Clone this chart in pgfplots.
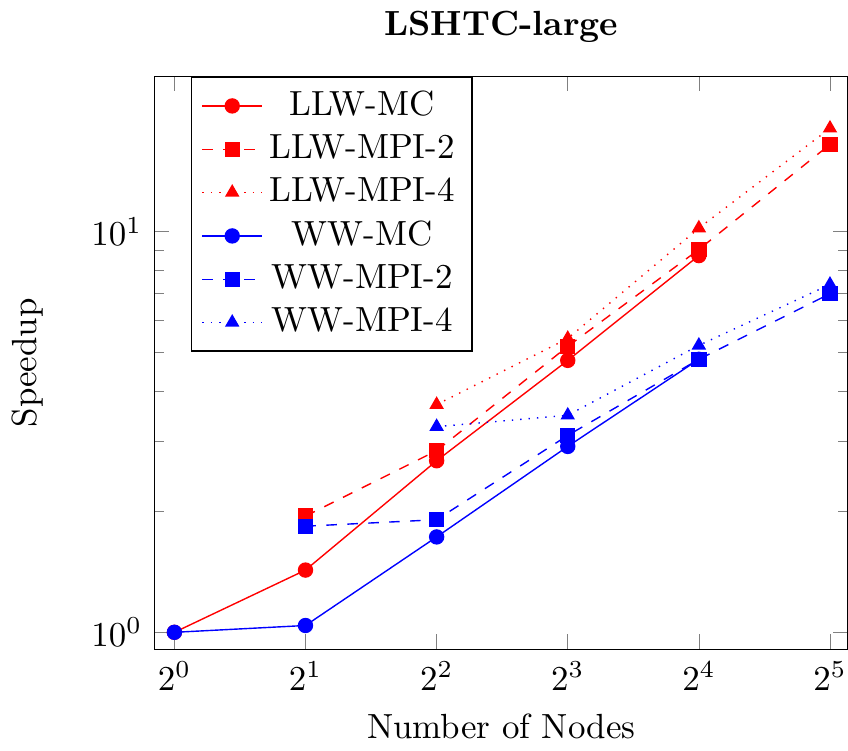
\documentclass[border=0pt]{standalone}
\usepackage{pgfplots}
\pgfplotsset{compat=1.18}
\begin{document}
\begin{tikzpicture}[trim axis right]
\begin{loglogaxis}[
  scale only axis,
  width=198.5pt, height=164pt,
  log basis x=2,
  xmin=0.9, xmax=35.2,
  ymin=0.907, ymax=24.4,
  xtick={1,2,4,8,16,32},
  title={\textbf{LSHTC-large}},
  xlabel={Number of Nodes},
  ylabel={Speedup},
  ylabel shift=7pt,
  legend style={at={(0.052,1)}, anchor=north west},
]
\addplot[red, mark=*] coordinates {(1,1) (2,1.43) (4,2.68) (8,4.77) (16,8.71)};
\addlegendentry{LLW-MC}
\addplot[red, dashed, mark=square*, mark options={solid}] coordinates {(2,1.95) (4,2.84) (8,5.17) (16,9.02) (32,16.5)};
\addlegendentry{LLW-MPI-2}
\addplot[red, dotted, mark=triangle*, mark options={solid}] coordinates {(4,3.7) (8,5.41) (16,10.2) (32,18.1)};
\addlegendentry{LLW-MPI-4}
\addplot[blue, mark=*] coordinates {(1,1) (2,1.04) (4,1.73) (8,2.91) (16,4.8)};
\addlegendentry{WW-MC}
\addplot[blue, dashed, mark=square*, mark options={solid}] coordinates {(2,1.84) (4,1.91) (8,3.1) (16,4.8) (32,7.0)};
\addlegendentry{WW-MPI-2}
\addplot[blue, dotted, mark=triangle*, mark options={solid}] coordinates {(4,3.26) (8,3.48) (16,5.2) (32,7.38)};
\addlegendentry{WW-MPI-4}
\end{loglogaxis}
\end{tikzpicture}
\end{document}
